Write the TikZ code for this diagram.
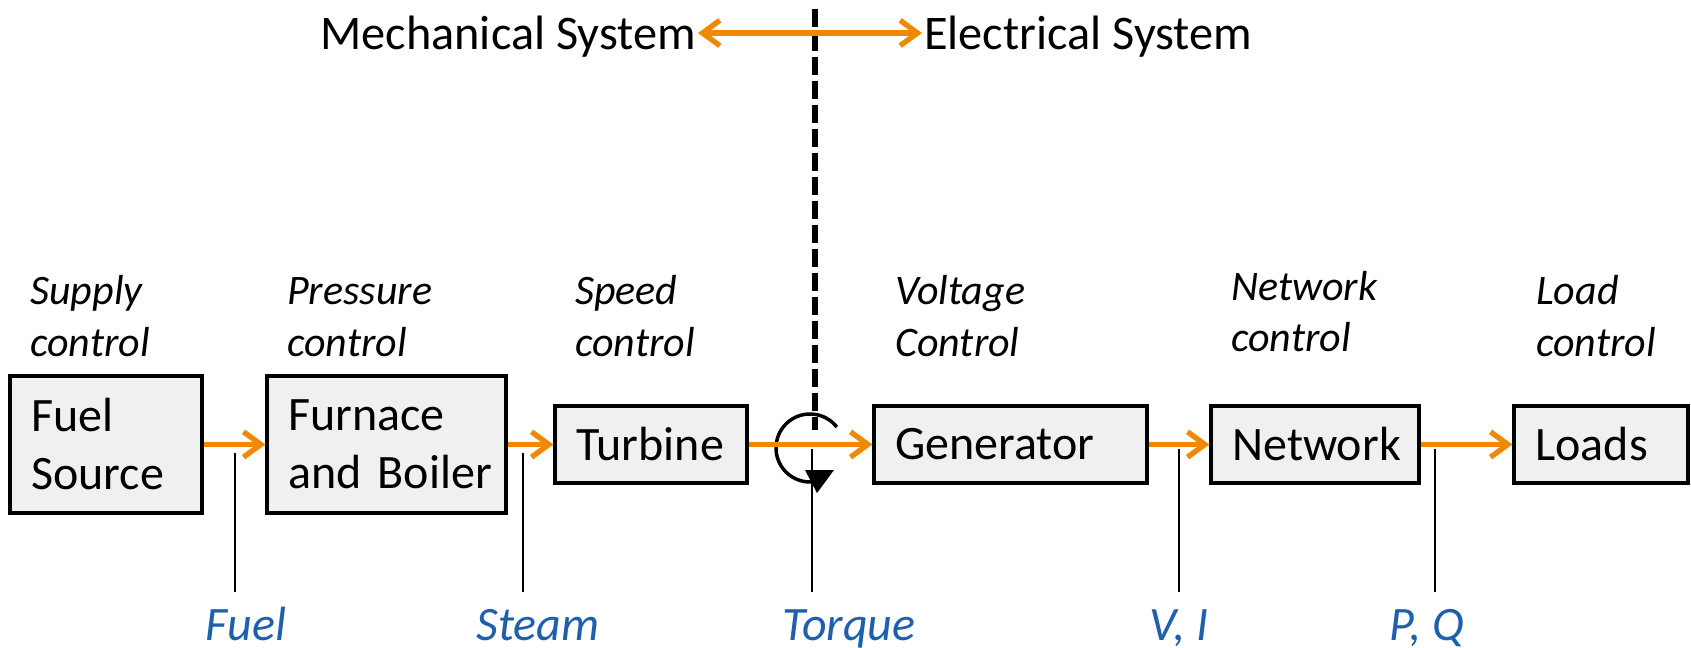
\documentclass[tikz,border=0pt]{standalone}
\usepackage{fontspec}
\setmainfont{Carlito}
\usetikzlibrary{arrows.meta}
\definecolor{flow}{RGB}{240,136,0}
\definecolor{qty}{RGB}{30,96,172}
\definecolor{boxfill}{RGB}{240,240,240}
\begin{document}
\begin{tikzpicture}[x=0.75pt,y=0.75pt,
  blk/.style={draw=black, line width=2.4pt, fill=boxfill, inner xsep=16pt, inner ysep=0pt,
    align=left, font=\fontsize{36}{43.5}\selectfont},
  flowarrow/.style={draw=flow, line width=4pt, -{Straight Barb[length=13pt,width=19pt]}},
  flowboth/.style={draw=flow, line width=4pt, {Straight Barb[length=13pt,width=19pt]}-{Straight Barb[length=13pt,width=19pt]}},
  toptext/.style={font=\fontsize{36.2}{42}\selectfont, inner sep=0pt},
  ctl/.style={font=\fontsize{31.5}{36}\selectfont\itshape, anchor=base west, inner sep=0pt},
  qlabel/.style={text=qty, font=\fontsize{36}{42}\selectfont\itshape, anchor=base, inner sep=0pt},
  leader/.style={draw=black, line width=1.5pt},
  sysdiv/.style={draw=black, line width=4pt, dash pattern=on 13.5pt off 4.5pt},
  shaft/.style={draw=black, line width=2.6pt}
]
\useasboundingbox (0,0) rectangle (1691,-648);

% top labels
\node[toptext, anchor=base east] (mech) at (696,-50) {Mechanical System};
\node[toptext, anchor=base west] (elec) at (924,-50) {Electrical System};

% dividing dashed line
\coordinate (dtop) at (815,-9);
\coordinate (dbot) at (815,-430);
\draw[sysdiv] (dtop) -- (dbot);

% top double arrow
\draw[flowboth] ([shift={(1.5pt,12.75pt)}]mech.base east) -- ([shift={(-1.5pt,12.75pt)}]elec.base west);

% control labels
\node[ctl] (sup1) at (30,-305) {Supply};
\node[ctl] (sup2) at (30,-357) {control};
\node[ctl] (pre1) at (287,-305) {Pressure};
\node[ctl] (pre2) at (287,-357) {control};
\node[ctl] (spd1) at (575,-305) {Speed};
\node[ctl] (spd2) at (575,-357) {control};
\node[ctl] (vol1) at (895,-305) {Voltage};
\node[ctl] (vol2) at (895,-357) {Control};
\node[ctl] (net1) at (1231,-301) {Network};
\node[ctl] (net2) at (1231,-352) {control};
\node[ctl] (lod1) at (1536,-305) {Load};
\node[ctl] (lod2) at (1536,-357) {control};

% shaft rotation symbol
\coordinate (shaftc) at (810,-448);
\draw[shaft] (shaftc) ++(38:25.5pt) arc[start angle=38, end angle=272, radius=25.5pt];
\fill (805,-470) -- (834,-470) -- (817,-493) -- cycle;

% quantity labels and leader lines
\node[qlabel] (qfuel) at (246,-640) {Fuel};
\node[qlabel] (qsteam) at (538,-640) {Steam};
\node[qlabel] (qtorque) at (849,-640) {Torque};
\node[qlabel] (qvi) at (1179,-640) {V, I};
\node[qlabel] (qpq) at (1427,-640) {P, Q};

\coordinate (lf1) at (235,-453); \coordinate (lf2) at (235,-592);
\coordinate (ls1) at (523,-453); \coordinate (ls2) at (523,-592);
\coordinate (lt1) at (812,-449); \coordinate (lt2) at (812,-592);
\coordinate (lv1) at (1179,-449); \coordinate (lv2) at (1179,-592);
\coordinate (lp1) at (1435,-449); \coordinate (lp2) at (1435,-592);
\draw[leader] (lf1) -- (lf2);
\draw[leader] (ls1) -- (ls2);
\draw[leader] (lt1) -- (lt2);
\draw[leader] (lv1) -- (lv2);
\draw[leader] (lp1) -- (lp2);

% blocks
\node[blk, minimum width=144pt, text width=112pt, minimum height=102.75pt] (fuel) at (106,-444.5) {\mbox{Fuel}\\\mbox{Source}};
\node[blk, minimum width=179.25pt, text width=147.25pt, minimum height=102.75pt] (furnace) at (386.5,-444.5) {\mbox{Furnace}\\\mbox{and Boiler}};
\node[blk, minimum width=144pt, text width=112pt, minimum height=57.75pt] (turbine) at (651,-444.5) {\mbox{Turbine}};
\node[blk, minimum width=204.75pt, text width=172.75pt, minimum height=57.75pt] (generator) at (1010.5,-444.5) {\mbox{Generator}};
\node[blk, minimum width=156pt, text width=124pt, minimum height=57.75pt] (network) at (1315,-444.5) {\mbox{Network}};
\node[blk, minimum width=130.5pt, text width=98.5pt, minimum height=57.75pt] (loads) at (1601,-444.5) {\mbox{Loads}};

% flow arrows
\draw[flowarrow] (fuel.east) -- (furnace.west);
\draw[flowarrow] (furnace.east) -- (turbine.west);
\draw[flowarrow] (turbine.east) -- (generator.west);
\draw[flowarrow] (generator.east) -- (network.west);
\draw[flowarrow] (network.east) -- (loads.west);
\end{tikzpicture}
\end{document}
